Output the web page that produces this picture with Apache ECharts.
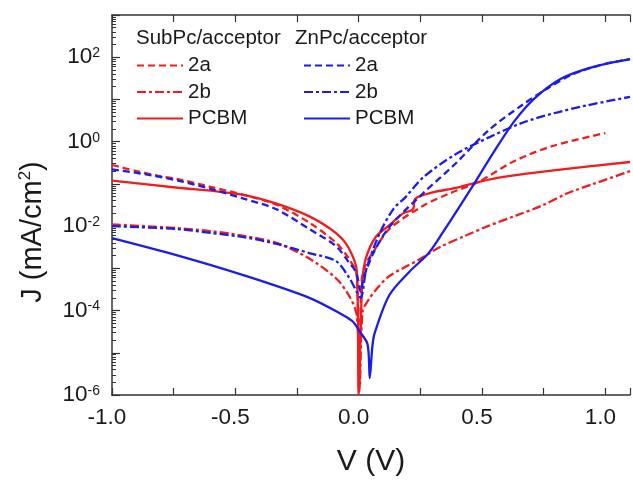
<!DOCTYPE html>
<html>
<head>
<meta charset="utf-8">
<script src="https://cdn.jsdelivr.net/npm/echarts@6/dist/echarts.min.js"></script>
<style>html,body{margin:0;padding:0;background:#fff}#c{width:633px;height:482px}</style>
</head>
<body>
<div id="c"></div>
<script>
// ---- data (V in volts, J in mA/cm^2) ----
var vSub2a = [-1.0,-0.9,-0.8,-0.733,-0.6,-0.467,-0.333,-0.2,-0.093,-0.04,-0.008,0.002,0.012,0.03,0.06,0.124,0.26,0.37,0.484,0.632,0.79,1.0];
var jSub2a = [0.28,0.2,0.15,0.13,0.085,0.055,0.032,0.012,0.0041,0.0017,0.0007,0.0000012,0.0005,0.0013,0.0025,0.0085,0.03,0.06,0.11,0.35,0.8,1.6];

var vSub2b = [-1.0,-0.8,-0.733,-0.6,-0.467,-0.333,-0.2,-0.093,-0.04,-0.008,0.004,0.016,0.04,0.072,0.12,0.192,0.244,0.33,0.432,0.524,0.64,0.74,0.844,0.952,1.1];
var jSub2b = [0.011,0.0095,0.009,0.0076,0.0059,0.004,0.0017,0.00059,0.00023,0.00008,0.0000015,0.000095,0.00018,0.00032,0.00063,0.0011,0.0016,0.0032,0.0059,0.01,0.018,0.03,0.059,0.1,0.2];

var vSubPC = [-1.0,-0.733,-0.6,-0.467,-0.333,-0.2,-0.093,-0.04,-0.007,0.0,0.008,0.015,0.03,0.07,0.12,0.18,0.22,0.23,0.3,0.39,0.484,0.6,0.79,1.1];
var jSubPC = [0.12,0.081,0.069,0.055,0.034,0.017,0.0069,0.003,0.00081,0.000001,0.00003,0.0005,0.0018,0.0056,0.01,0.02,0.025,0.045,0.063,0.079,0.11,0.15,0.21,0.33];

var vZn2a = [-1.0,-0.867,-0.733,-0.6,-0.467,-0.333,-0.2,-0.093,-0.04,-0.01,0.008,0.02,0.06,0.124,0.26,0.392,0.524,0.66,0.764,0.87,1.0,1.1];
var jZn2a = [0.22,0.17,0.12,0.076,0.045,0.025,0.0085,0.0034,0.0014,0.0008,0.00028,0.00059,0.0023,0.0095,0.059,0.3,1.8,7.2,18,40,70,90];

var vZn2b = [-1.0,-0.733,-0.6,-0.467,-0.333,-0.2,-0.093,-0.04,-0.008,0.008,0.032,0.084,0.14,0.192,0.26,0.392,0.524,0.66,0.79,0.924,1.1];
var jZn2b = [0.01,0.0085,0.0069,0.0055,0.0038,0.0023,0.0015,0.00062,0.00028,0.0002,0.001,0.0065,0.025,0.05,0.14,0.5,1.23,2.75,4.7,7.2,11.5];

var vZnPC = [-1.0,-0.732,-0.468,-0.2,-0.068,-0.024,0.004,0.036,0.045,0.055,0.064,0.124,0.204,0.284,0.34,0.46,0.552,0.632,0.712,0.82,0.952,1.1];
var jZnPC = [0.0052,0.002,0.00069,0.0002,0.000081,0.000055,0.000032,0.000016,0.0000025,0.000013,0.000028,0.00023,0.00081,0.0023,0.0069,0.085,0.62,3.1,10.5,31,59,90];

var xTicks = [-1.0,-0.5,0.0,0.5,1.0];
var yTickExps = [-6,-4,-2,0,2];

var RED = '#f21c1c', BLUE = '#1c1ceb';
var DASH = [7,4], DASHDOT = [9,3,3,3];

function pairs(v, j){ return v.map(function(x,i){ return [x, j[i]]; }); }
function mk(name, v, j, color, type){
  return { name: name, type: 'line', data: pairs(v, j), symbol: 'none', showSymbol: false,
    smooth: 0.3,
    lineStyle: { color: color, width: 2.3, type: type }, itemStyle: { color: color },
    z: 3, animation: false };
}

var FONT = 'Liberation Sans, Arial, sans-serif';
var chart = echarts.init(document.getElementById('c'), null, {renderer: 'canvas'});
var legendCommon = {
  orient: 'vertical', top: 55, itemWidth: 46, itemHeight: 14, itemGap: 5.5, selectedMode: false,
  itemStyle: { opacity: 0 },
  formatter: function(n){ return n.split('/')[1]; },
  textStyle: { fontSize: 20.5, lineHeight: 20, color: '#1a1a1a', fontFamily: FONT }, padding: 0
};
var option = {
  animation: false,
  backgroundColor: '#fff',
  grid: { left: 112, right: -5, top: 15, bottom: 80, containLabel: false },
  xAxis: [{
    type: 'value', min: -1.0, max: 1.1, interval: 0.25, position: 'bottom',
    axisLine: { show: true, onZero: false, lineStyle: { color: '#333', width: 1.5 } },
    axisTick: { show: true, inside: true, length: 7, lineStyle: { color: '#333', width: 1.2 } },
    splitLine: { show: false },
    axisLabel: { show: true, margin: 11, color: '#1a1a1a', fontSize: 22.5, fontFamily: FONT, padding: [0,10,0,0],
      formatter: function(v){
        for (var i=0;i<xTicks.length;i++){ if (Math.abs(v - xTicks[i]) < 1e-6) return xTicks[i].toFixed(1); }
        return '';
      } },
    name: 'V (V)', nameLocation: 'middle', nameGap: 52,
    nameTextStyle: { fontSize: 30, color: '#1a1a1a', fontFamily: FONT }
  },{
    type: 'value', min: -1.0, max: 1.1, interval: 0.25, position: 'top',
    axisLine: { show: true, onZero: false, lineStyle: { color: '#333', width: 1.5 } },
    axisTick: { show: true, inside: true, length: 7, lineStyle: { color: '#333', width: 1.2 } },
    splitLine: { show: false }, axisLabel: { show: false }
  }],
  yAxis: [{
    type: 'log', logBase: 10, min: 1e-6, max: 1e3, interval: 1,
    axisLine: { show: true, onZero: false, lineStyle: { color: '#333', width: 1.5 } },
    axisTick: { show: true, inside: true, length: 8, lineStyle: { color: '#333', width: 1.2 } },
    minorTick: { show: true, splitNumber: 9, length: 4, lineStyle: { color: '#333', width: 1 } },
    splitLine: { show: false },
    axisLabel: { show: true, margin: 12, color: '#1a1a1a', fontFamily: FONT,
      formatter: function(v){
        var e = Math.round(Math.log(v)/Math.LN10);
        if (yTickExps.indexOf(e) < 0) return '';
        return '{b|10}{s|' + e + '}';
      },
      rich: {
        b: { fontSize: 22.5, fontFamily: FONT, color: '#1a1a1a', lineHeight: 22, padding: [4,0,4,0], verticalAlign: 'middle' },
        s: { fontSize: 14, fontFamily: FONT, color: '#1a1a1a', lineHeight: 14, verticalAlign: 'top' }
      } }
  }],
  legend: [
    Object.assign({ data: ['SubPc/2a','SubPc/2b','SubPc/PCBM'], left: 136 }, legendCommon),
    Object.assign({ data: ['ZnPc/2a','ZnPc/2b','ZnPc/PCBM'], left: 303 }, legendCommon)
  ],
  graphic: [
    { type: 'text', left: 136, top: 28, style: { text: 'SubPc/acceptor', fontSize: 20.5, fontFamily: FONT, fill: '#1a1a1a' } },
    { type: 'text', left: 295, top: 28, style: { text: 'ZnPc/acceptor', fontSize: 20.5, fontFamily: FONT, fill: '#1a1a1a' } },
    { type: 'text', x: 32, y: 232, rotation: Math.PI/2,
      style: { text: '{m|J (mA/cm}{s|2}{m|)}', align: 'center', verticalAlign: 'middle',
        rich: { m: { fontSize: 29, fontFamily: FONT, fill: '#1a1a1a', lineHeight: 30, verticalAlign: 'bottom' },
                s: { fontSize: 17, fontFamily: FONT, fill: '#1a1a1a', lineHeight: 17, verticalAlign: 'top', padding: [0,0,14,0] } } } }
  ],
  series: [
    mk('SubPc/2a', vSub2a, jSub2a, RED, DASH),
    mk('SubPc/2b', vSub2b, jSub2b, RED, DASHDOT),
    mk('SubPc/PCBM', vSubPC, jSubPC, RED, 'solid'),
    mk('ZnPc/2a', vZn2a, jZn2a, BLUE, DASH),
    mk('ZnPc/2b', vZn2b, jZn2b, BLUE, DASHDOT),
    mk('ZnPc/PCBM', vZnPC, jZnPC, BLUE, 'solid')
  ]
};
chart.setOption(option);
</script>
</body>
</html>
